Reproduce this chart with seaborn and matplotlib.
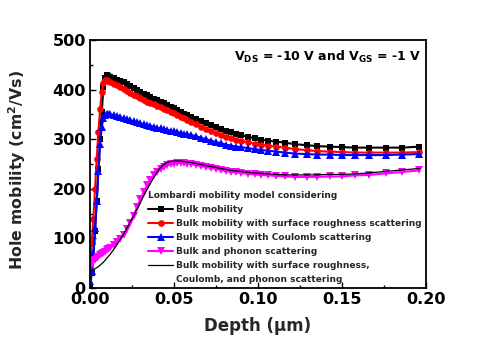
import matplotlib
matplotlib.use("Agg")
import matplotlib.pyplot as plt
from matplotlib.lines import Line2D
from matplotlib.ticker import MultipleLocator
import seaborn as sns

# Depth grid (um)
depth = [0.000, 0.001, 0.002, 0.003, 0.004, 0.005, 0.006, 0.007, 0.008, 0.009,
         0.010, 0.011, 0.012, 0.014, 0.016, 0.018, 0.020, 0.022, 0.024, 0.026,
         0.028, 0.030, 0.032, 0.034, 0.036, 0.038, 0.040, 0.042, 0.044, 0.046,
         0.048, 0.050, 0.052, 0.054, 0.056, 0.058, 0.060, 0.063, 0.066, 0.069,
         0.072, 0.075, 0.078, 0.081, 0.084, 0.087, 0.090, 0.094, 0.098, 0.102,
         0.106, 0.111, 0.116, 0.122, 0.129, 0.135, 0.143, 0.150, 0.158, 0.166,
         0.176, 0.186, 0.196]

# Hole mobility (cm^2/Vs) for each scattering model
bulk = [0, 30, 65, 115, 175, 240, 300, 355, 405, 424,
        429, 428, 426, 423, 420, 418, 415, 411, 407, 403,
        399, 396, 392, 389, 385, 382, 379, 376, 373, 369,
        365, 362, 358, 355, 351, 348, 345, 340, 336, 332,
        328, 324, 321, 317, 314, 311, 308, 305, 302, 299,
        297, 295, 293, 290, 288, 286, 285, 284, 283, 283,
        283, 283, 285]

bulk_sr = [40, 90, 140, 200, 260, 315, 360, 395, 413, 419,
           419, 417, 415, 412, 409, 405, 402, 398, 394, 390,
           387, 383, 379, 376, 373, 370, 367, 364, 361, 358,
           355, 352, 348, 345, 342, 339, 335, 330, 325, 321,
           316, 312, 308, 305, 302, 299, 297, 294, 291, 289,
           287, 285, 283, 280, 278, 276, 275, 274, 273, 273,
           273, 273, 274]

bulk_coul = [15, 35, 70, 120, 175, 235, 290, 325, 342, 348,
             350, 350, 350, 349, 347, 344, 342, 340, 338, 336,
             334, 332, 330, 329, 327, 325, 323, 322, 320, 319,
             317, 316, 314, 313, 311, 310, 309, 306, 303, 300,
             297, 294, 292, 289, 287, 285, 284, 282, 280, 278,
             277, 275, 273, 271, 270, 269, 269, 268, 268, 268,
             268, 269, 270]

bulk_ph = [40, 50, 54, 57, 60, 63, 66, 68, 71, 73,
           76, 78, 81, 86, 92, 99, 107, 118, 131, 146,
           163, 179, 194, 207, 218, 227, 234, 240, 244, 247,
           250, 251, 252, 252, 252, 251, 250, 248, 246, 244,
           242, 240, 238, 236, 234, 233, 232, 230, 229, 228,
           227, 226, 225, 224, 224, 224, 225, 225, 227, 228,
           231, 234, 237]

total = [33, 35, 37, 39, 41, 43, 46, 49, 52, 56,
         60, 64, 68, 77, 87, 98, 109, 121, 134, 146,
         159, 172, 186, 199, 211, 223, 234, 243, 249, 253,
         255, 256, 256, 256, 255, 254, 253, 251, 249, 247,
         245, 243, 241, 239, 237, 236, 235, 233, 232, 231,
         230, 229, 228, 228, 228, 228, 229, 229, 230, 232,
         235, 238, 241]

labels = ["Bulk mobility",
          "Bulk mobility with surface roughness scattering",
          "Bulk mobility with Coulomb scattering",
          "Bulk and phonon scattering",
          "Bulk mobility with surface roughness,"]
label_cont = "Coulomb, and phonon scattering"
legend_title = "Lombardi mobility model considering"

sns.set_theme(style="ticks")
plt.rcParams["font.family"] = ["DejaVu Sans"]
plt.rcParams["font.weight"] = "bold"
plt.rcParams["mathtext.fontset"] = "custom"
plt.rcParams["mathtext.rm"] = "DejaVu Sans:bold"
plt.rcParams["mathtext.bf"] = "DejaVu Sans:bold"
plt.rcParams["mathtext.it"] = "DejaVu Sans:bold"

fig = plt.figure(figsize=(4.97, 3.47), dpi=100)
ax = fig.add_axes([90 / 497, 1 - 288 / 347, 336 / 497, 248 / 347])

styles = [
    (bulk, "black", "s", 4.8, 1.5),
    (bulk_sr, "red", "o", 4.8, 1.5),
    (bulk_coul, "blue", "^", 5.2, 1.5),
    (bulk_ph, "magenta", "v", 5.2, 1.5),
]
for (vals, col, mk, ms, lw), lab in zip(styles, labels[:4]):
    sns.lineplot(x=depth, y=vals, ax=ax, color=col, marker=mk, markersize=ms,
                 markeredgewidth=0, linewidth=lw, label=lab, sort=False)
sns.lineplot(x=depth, y=total, ax=ax, color="black", linewidth=0.9,
             label=labels[4], sort=False)

ax.set_xlim(0, 0.20)
ax.set_ylim(0, 500)
ax.xaxis.set_major_locator(MultipleLocator(0.05))
ax.xaxis.set_minor_locator(MultipleLocator(0.025))
ax.yaxis.set_major_locator(MultipleLocator(100))
ax.yaxis.set_minor_locator(MultipleLocator(50))
ax.xaxis.set_major_formatter(plt.FuncFormatter(lambda v, p: f"{v:.2f}"))
ax.tick_params(which="both", direction="in", top=False, right=False,
               labelsize=11.5, width=1.0, color="black", labelcolor="black")
ax.tick_params(which="major", length=4.5, pad=3)
ax.tick_params(which="minor", length=2.5)
for sp in ax.spines.values():
    sp.set_visible(True)
    sp.set_linewidth(1.3)
    sp.set_color("black")

ax.set_xlabel("Depth (\u03bcm)", fontsize=12, fontweight="bold", labelpad=7)
ax.set_ylabel("Hole mobility (cm$^{2}$/Vs)", fontsize=11.3, fontweight="bold")
ax.yaxis.set_label_coords(-0.185, 0.475)

ax.text(0.43, 0.965, "V$_{\\mathbf{DS}}$ = -10 V and V$_{\\mathbf{GS}}$ = -1 V",
        transform=ax.transAxes, fontsize=9, fontweight="bold",
        ha="left", va="top", color="black")

handles, labs = ax.get_legend_handles_labels()
handles.append(Line2D([], [], linestyle="none"))
labs.append(label_cont)
leg = ax.legend(handles, labs, title=legend_title, loc="upper left",
                bbox_to_anchor=(148 / 497, 1 - 191 / 347),
                bbox_transform=fig.transFigure, frameon=False,
                prop={"size": 6.5, "weight": "bold"},
                title_fontproperties={"size": 6.5, "weight": "bold"},
                handlelength=2.8, handletextpad=0.3, labelspacing=0.55,
                borderpad=0, borderaxespad=0, alignment="left")

fig.savefig("out.png", dpi=100, facecolor="white")
